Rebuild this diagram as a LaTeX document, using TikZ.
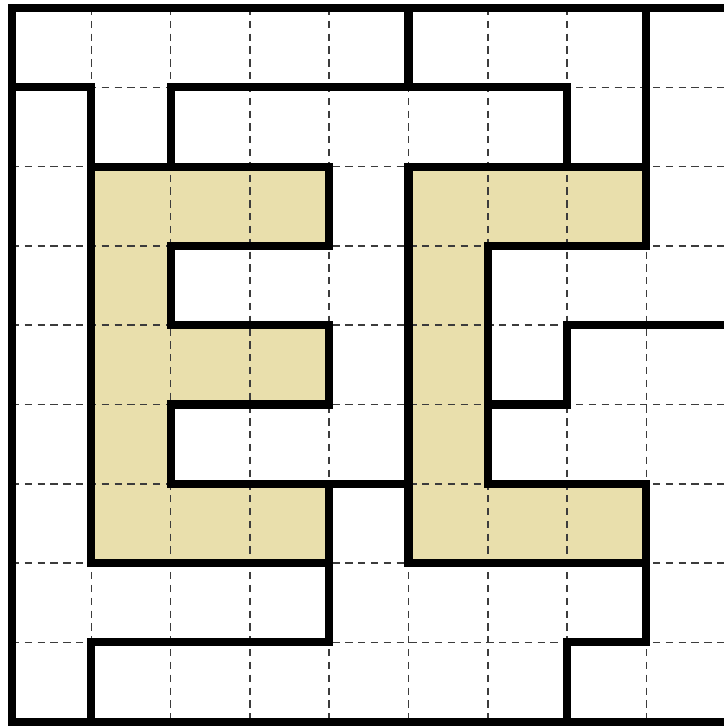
\documentclass[tikz,border=0pt]{standalone}
\definecolor{shapefill}{RGB}{233,223,172}
\definecolor{gridgray}{RGB}{60,60,60}
\tikzset{
  gridline/.style={draw=gridgray, line width=0.55pt, dash pattern=on 2.6pt off 2pt},
  wall/.style={draw=black, line width=2.9pt, line cap=rect, line join=miter},
  piece/.style={fill=shapefill}
}
\begin{document}
\begin{tikzpicture}[x=1cm,y=-1cm]
\useasboundingbox[fill=white] (-0.151,-0.101) rectangle (8.978,9.054);
% filled pieces
\fill[piece] (1,2) -- (4,2) -- (4,3) -- (2,3) -- (2,4) -- (4,4) -- (4,5) -- (2,5) -- (2,6) -- (4,6) -- (4,7) -- (1,7) -- cycle;
\fill[piece] (5,2) -- (8,2) -- (8,3) -- (6,3) -- (6,6) -- (8,6) -- (8,7) -- (5,7) -- cycle;
% dashed grid
\foreach \i in {1,...,8} {
  \draw[gridline] (\i,0) -- (\i,9);
  \draw[gridline] (0,\i) -- (9.2,\i);
}
% outline of pieces
\draw[wall] (1,2) -- (4,2) -- (4,3) -- (2,3) -- (2,4) -- (4,4) -- (4,5) -- (2,5) -- (2,6) -- (4,6) -- (4,7) -- (1,7) -- cycle;
\draw[wall] (5,2) -- (8,2) -- (8,3) -- (6,3) -- (6,6) -- (8,6) -- (8,7) -- (5,7) -- cycle;
% outer frame
\draw[wall] (9.2,0) -- (0,0) -- (0,9) -- (9.2,9);
% other walls
\draw[wall] (5,0) -- (5,1);
\draw[wall] (0,1) -- (1,1) -- (1,2);
\draw[wall] (2,2) -- (2,1) -- (7,1) -- (7,2);
\draw[wall] (8,0) -- (8,2);
\draw[wall] (4,6) -- (5,6);
\draw[wall] (6,5) -- (7,5) -- (7,4) -- (9.2,4);
\draw[wall] (4,7) -- (4,8) -- (1,8) -- (1,9);
\draw[wall] (8,7) -- (8,8) -- (7,8) -- (7,9);
\end{tikzpicture}
\end{document}
